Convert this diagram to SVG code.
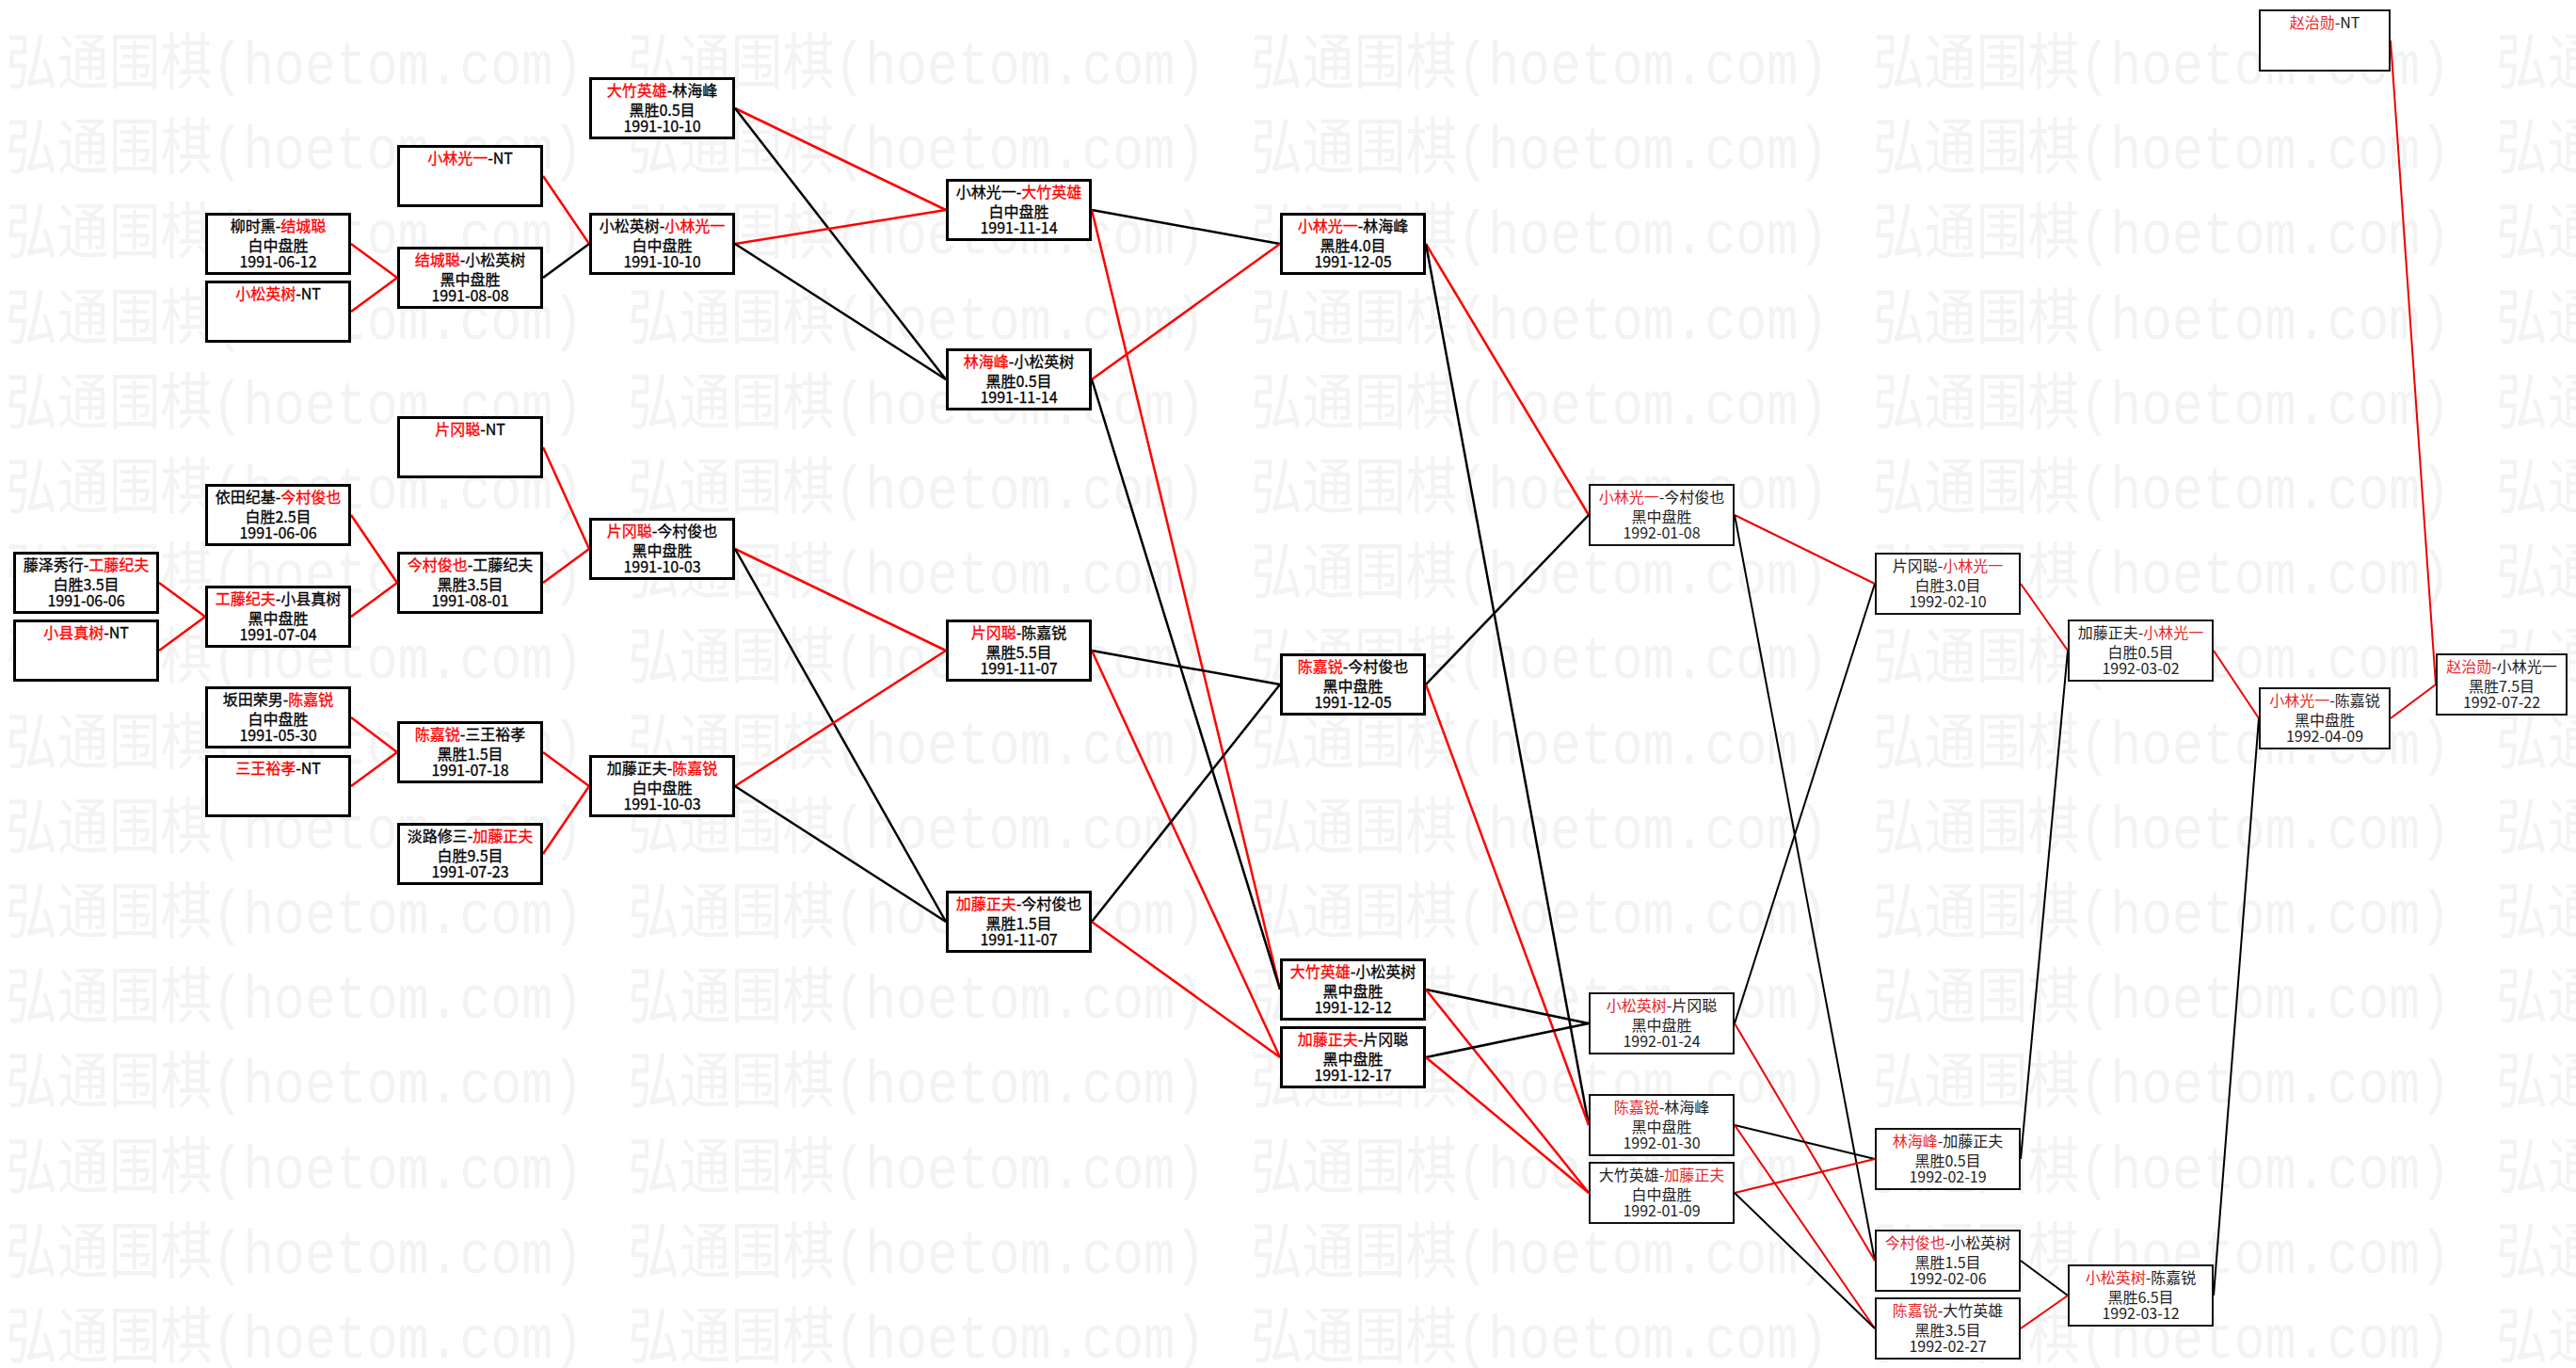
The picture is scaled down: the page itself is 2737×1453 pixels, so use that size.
<svg xmlns="http://www.w3.org/2000/svg" xmlns:xlink="http://www.w3.org/1999/xlink" width="2737" height="1453" viewBox="0 0 2737 1453">
<style>
.bg{fill:#ffffff}
.wm{font-family:"Liberation Mono","Noto Sans CJK SC",monospace;font-size:56px;fill:#f3f3f3}
.box{fill:#ffffff;stroke:#000;stroke-width:3}
.box2{fill:#ffffff;stroke:#111;stroke-width:2}
.t{font-family:"Noto Sans CJK SC","Noto Sans",sans-serif;font-size:16px;text-anchor:middle;fill:#000;stroke:#000;stroke-width:0.3}
.t2{font-family:"Noto Sans CJK SC","Noto Sans",sans-serif;font-size:16px;text-anchor:middle;fill:#222}
.r{fill:#ff0000;stroke:#ff0000}
.r2{fill:#e8282a}
.lr{stroke:#ff0000;stroke-width:2.5;fill:none}
.lb{stroke:#000;stroke-width:2.5;fill:none}
.lr2{stroke:#ee0000;stroke-width:2;fill:none}
.lb2{stroke:#000;stroke-width:2;fill:none}
</style>
<defs>
<text id="wm" class="wm" x="0" y="0" transform="scale(1,1.15)" textLength="614" lengthAdjust="spacingAndGlyphs">弘通围棋(hoetom.com)</text>
</defs>
<rect class="bg" x="0" y="0" width="2737" height="1453"/>
<g id="watermark">
<use href="#wm" x="6" y="89"/><use href="#wm" x="667" y="89"/><use href="#wm" x="1329" y="89"/><use href="#wm" x="1990" y="89"/><use href="#wm" x="2652" y="89"/>
<use href="#wm" x="6" y="179"/><use href="#wm" x="667" y="179"/><use href="#wm" x="1329" y="179"/><use href="#wm" x="1990" y="179"/><use href="#wm" x="2652" y="179"/>
<use href="#wm" x="6" y="269"/><use href="#wm" x="667" y="269"/><use href="#wm" x="1329" y="269"/><use href="#wm" x="1990" y="269"/><use href="#wm" x="2652" y="269"/>
<use href="#wm" x="6" y="360"/><use href="#wm" x="667" y="360"/><use href="#wm" x="1329" y="360"/><use href="#wm" x="1990" y="360"/><use href="#wm" x="2652" y="360"/>
<use href="#wm" x="6" y="450"/><use href="#wm" x="667" y="450"/><use href="#wm" x="1329" y="450"/><use href="#wm" x="1990" y="450"/><use href="#wm" x="2652" y="450"/>
<use href="#wm" x="6" y="540"/><use href="#wm" x="667" y="540"/><use href="#wm" x="1329" y="540"/><use href="#wm" x="1990" y="540"/><use href="#wm" x="2652" y="540"/>
<use href="#wm" x="6" y="630"/><use href="#wm" x="667" y="630"/><use href="#wm" x="1329" y="630"/><use href="#wm" x="1990" y="630"/><use href="#wm" x="2652" y="630"/>
<use href="#wm" x="6" y="720"/><use href="#wm" x="667" y="720"/><use href="#wm" x="1329" y="720"/><use href="#wm" x="1990" y="720"/><use href="#wm" x="2652" y="720"/>
<use href="#wm" x="6" y="811"/><use href="#wm" x="667" y="811"/><use href="#wm" x="1329" y="811"/><use href="#wm" x="1990" y="811"/><use href="#wm" x="2652" y="811"/>
<use href="#wm" x="6" y="901"/><use href="#wm" x="667" y="901"/><use href="#wm" x="1329" y="901"/><use href="#wm" x="1990" y="901"/><use href="#wm" x="2652" y="901"/>
<use href="#wm" x="6" y="991"/><use href="#wm" x="667" y="991"/><use href="#wm" x="1329" y="991"/><use href="#wm" x="1990" y="991"/><use href="#wm" x="2652" y="991"/>
<use href="#wm" x="6" y="1081"/><use href="#wm" x="667" y="1081"/><use href="#wm" x="1329" y="1081"/><use href="#wm" x="1990" y="1081"/><use href="#wm" x="2652" y="1081"/>
<use href="#wm" x="6" y="1171"/><use href="#wm" x="667" y="1171"/><use href="#wm" x="1329" y="1171"/><use href="#wm" x="1990" y="1171"/><use href="#wm" x="2652" y="1171"/>
<use href="#wm" x="6" y="1262"/><use href="#wm" x="667" y="1262"/><use href="#wm" x="1329" y="1262"/><use href="#wm" x="1990" y="1262"/><use href="#wm" x="2652" y="1262"/>
<use href="#wm" x="6" y="1352"/><use href="#wm" x="667" y="1352"/><use href="#wm" x="1329" y="1352"/><use href="#wm" x="1990" y="1352"/><use href="#wm" x="2652" y="1352"/>
<use href="#wm" x="6" y="1442"/><use href="#wm" x="667" y="1442"/><use href="#wm" x="1329" y="1442"/><use href="#wm" x="1990" y="1442"/><use href="#wm" x="2652" y="1442"/>
</g>
<g id="connectors">
<line class="lr" x1="169" y1="619" x2="218" y2="655"/>
<line class="lr" x1="169" y1="691" x2="218" y2="655"/>
<line class="lr" x1="373" y1="259" x2="422" y2="295"/>
<line class="lr" x1="373" y1="331" x2="422" y2="295"/>
<line class="lr" x1="373" y1="547" x2="422" y2="619"/>
<line class="lr" x1="373" y1="655" x2="422" y2="619"/>
<line class="lr" x1="373" y1="762" x2="422" y2="799"/>
<line class="lr" x1="373" y1="835" x2="422" y2="799"/>
<line class="lr" x1="577" y1="187" x2="626" y2="259"/>
<line class="lb" x1="577" y1="295" x2="626" y2="259"/>
<line class="lr" x1="577" y1="475" x2="626" y2="583"/>
<line class="lr" x1="577" y1="619" x2="626" y2="583"/>
<line class="lr" x1="577" y1="799" x2="626" y2="835"/>
<line class="lr" x1="577" y1="907" x2="626" y2="835"/>
<line class="lr" x1="781" y1="115" x2="1005" y2="223"/>
<line class="lb" x1="781" y1="115" x2="1005" y2="403"/>
<line class="lr" x1="781" y1="259" x2="1005" y2="223"/>
<line class="lb" x1="781" y1="259" x2="1005" y2="403"/>
<line class="lr" x1="781" y1="583" x2="1005" y2="691"/>
<line class="lb" x1="781" y1="583" x2="1005" y2="979"/>
<line class="lr" x1="781" y1="835" x2="1005" y2="691"/>
<line class="lb" x1="781" y1="835" x2="1005" y2="979"/>
<line class="lb" x1="1160" y1="223" x2="1360" y2="259"/>
<line class="lr" x1="1160" y1="223" x2="1360" y2="1051"/>
<line class="lr" x1="1160" y1="403" x2="1360" y2="259"/>
<line class="lb" x1="1160" y1="403" x2="1360" y2="1051"/>
<line class="lb" x1="1160" y1="691" x2="1360" y2="727"/>
<line class="lr" x1="1160" y1="691" x2="1360" y2="1123"/>
<line class="lb" x1="1160" y1="979" x2="1360" y2="727"/>
<line class="lr" x1="1160" y1="979" x2="1360" y2="1123"/>
<line class="lr" x1="1515" y1="259" x2="1688" y2="547"/>
<line class="lb" x1="1515" y1="259" x2="1688" y2="1195"/>
<line class="lb" x1="1515" y1="727" x2="1688" y2="547"/>
<line class="lr" x1="1515" y1="727" x2="1688" y2="1195"/>
<line class="lb" x1="1515" y1="1051" x2="1688" y2="1087"/>
<line class="lr" x1="1515" y1="1051" x2="1688" y2="1267"/>
<line class="lb" x1="1515" y1="1123" x2="1688" y2="1087"/>
<line class="lr" x1="1515" y1="1123" x2="1688" y2="1267"/>
<line class="lr2" x1="1843" y1="547" x2="1992" y2="620"/>
<line class="lb2" x1="1843" y1="547" x2="1992" y2="1339"/>
<line class="lb2" x1="1843" y1="1087" x2="1992" y2="620"/>
<line class="lr2" x1="1843" y1="1087" x2="1992" y2="1339"/>
<line class="lb2" x1="1843" y1="1195" x2="1992" y2="1231"/>
<line class="lr2" x1="1843" y1="1195" x2="1992" y2="1411"/>
<line class="lr2" x1="1843" y1="1267" x2="1992" y2="1231"/>
<line class="lb2" x1="1843" y1="1267" x2="1992" y2="1411"/>
<line class="lr2" x1="2147" y1="620" x2="2197" y2="691"/>
<line class="lb2" x1="2147" y1="1231" x2="2197" y2="691"/>
<line class="lb2" x1="2147" y1="1339" x2="2197" y2="1376"/>
<line class="lr2" x1="2147" y1="1411" x2="2197" y2="1376"/>
<line class="lr2" x1="2352" y1="691" x2="2400" y2="763"/>
<line class="lb2" x1="2352" y1="1376" x2="2400" y2="763"/>
<line class="lr2" x1="2540" y1="43" x2="2588" y2="727"/>
<line class="lr2" x1="2540" y1="763" x2="2588" y2="727"/>
</g>
<g id="a1" transform="translate(14,586)"><rect class="box" x="1.5" y="1.5" width="152" height="63"/><text class="t" x="77.5" y="20">藤泽秀行-<tspan class="r">工藤纪夫</tspan></text><text class="t" x="77.5" y="40.5">白胜3.5目</text><text class="t" x="77.5" y="58">1991-06-06</text></g>
<g id="a2" transform="translate(14,658)"><rect class="box" x="1.5" y="1.5" width="152" height="63"/><text class="t" x="77.5" y="20"><tspan class="r">小县真树</tspan>-NT</text></g>
<g id="b1" transform="translate(218,226)"><rect class="box" x="1.5" y="1.5" width="152" height="63"/><text class="t" x="77.5" y="20">柳时熏-<tspan class="r">结城聪</tspan></text><text class="t" x="77.5" y="40.5">白中盘胜</text><text class="t" x="77.5" y="58">1991-06-12</text></g>
<g id="b2" transform="translate(218,298)"><rect class="box" x="1.5" y="1.5" width="152" height="63"/><text class="t" x="77.5" y="20"><tspan class="r">小松英树</tspan>-NT</text></g>
<g id="b3" transform="translate(218,514)"><rect class="box" x="1.5" y="1.5" width="152" height="63"/><text class="t" x="77.5" y="20">依田纪基-<tspan class="r">今村俊也</tspan></text><text class="t" x="77.5" y="40.5">白胜2.5目</text><text class="t" x="77.5" y="58">1991-06-06</text></g>
<g id="b4" transform="translate(218,622)"><rect class="box" x="1.5" y="1.5" width="152" height="63"/><text class="t" x="77.5" y="20"><tspan class="r">工藤纪夫</tspan>-小县真树</text><text class="t" x="77.5" y="40.5">黑中盘胜</text><text class="t" x="77.5" y="58">1991-07-04</text></g>
<g id="b5" transform="translate(218,729)"><rect class="box" x="1.5" y="1.5" width="152" height="63"/><text class="t" x="77.5" y="20">坂田荣男-<tspan class="r">陈嘉锐</tspan></text><text class="t" x="77.5" y="40.5">白中盘胜</text><text class="t" x="77.5" y="58">1991-05-30</text></g>
<g id="b6" transform="translate(218,802)"><rect class="box" x="1.5" y="1.5" width="152" height="63"/><text class="t" x="77.5" y="20"><tspan class="r">三王裕孝</tspan>-NT</text></g>
<g id="c1" transform="translate(422,154)"><rect class="box" x="1.5" y="1.5" width="152" height="63"/><text class="t" x="77.5" y="20"><tspan class="r">小林光一</tspan>-NT</text></g>
<g id="c2" transform="translate(422,262)"><rect class="box" x="1.5" y="1.5" width="152" height="63"/><text class="t" x="77.5" y="20"><tspan class="r">结城聪</tspan>-小松英树</text><text class="t" x="77.5" y="40.5">黑中盘胜</text><text class="t" x="77.5" y="58">1991-08-08</text></g>
<g id="c3" transform="translate(422,442)"><rect class="box" x="1.5" y="1.5" width="152" height="63"/><text class="t" x="77.5" y="20"><tspan class="r">片冈聪</tspan>-NT</text></g>
<g id="c4" transform="translate(422,586)"><rect class="box" x="1.5" y="1.5" width="152" height="63"/><text class="t" x="77.5" y="20"><tspan class="r">今村俊也</tspan>-工藤纪夫</text><text class="t" x="77.5" y="40.5">黑胜3.5目</text><text class="t" x="77.5" y="58">1991-08-01</text></g>
<g id="c5" transform="translate(422,766)"><rect class="box" x="1.5" y="1.5" width="152" height="63"/><text class="t" x="77.5" y="20"><tspan class="r">陈嘉锐</tspan>-三王裕孝</text><text class="t" x="77.5" y="40.5">黑胜1.5目</text><text class="t" x="77.5" y="58">1991-07-18</text></g>
<g id="c6" transform="translate(422,874)"><rect class="box" x="1.5" y="1.5" width="152" height="63"/><text class="t" x="77.5" y="20">淡路修三-<tspan class="r">加藤正夫</tspan></text><text class="t" x="77.5" y="40.5">白胜9.5目</text><text class="t" x="77.5" y="58">1991-07-23</text></g>
<g id="d1" transform="translate(626,82)"><rect class="box" x="1.5" y="1.5" width="152" height="63"/><text class="t" x="77.5" y="20"><tspan class="r">大竹英雄</tspan>-林海峰</text><text class="t" x="77.5" y="40.5">黑胜0.5目</text><text class="t" x="77.5" y="58">1991-10-10</text></g>
<g id="d2" transform="translate(626,226)"><rect class="box" x="1.5" y="1.5" width="152" height="63"/><text class="t" x="77.5" y="20">小松英树-<tspan class="r">小林光一</tspan></text><text class="t" x="77.5" y="40.5">白中盘胜</text><text class="t" x="77.5" y="58">1991-10-10</text></g>
<g id="d3" transform="translate(626,550)"><rect class="box" x="1.5" y="1.5" width="152" height="63"/><text class="t" x="77.5" y="20"><tspan class="r">片冈聪</tspan>-今村俊也</text><text class="t" x="77.5" y="40.5">黑中盘胜</text><text class="t" x="77.5" y="58">1991-10-03</text></g>
<g id="d4" transform="translate(626,802)"><rect class="box" x="1.5" y="1.5" width="152" height="63"/><text class="t" x="77.5" y="20">加藤正夫-<tspan class="r">陈嘉锐</tspan></text><text class="t" x="77.5" y="40.5">白中盘胜</text><text class="t" x="77.5" y="58">1991-10-03</text></g>
<g id="e1" transform="translate(1005,190)"><rect class="box" x="1.5" y="1.5" width="152" height="63"/><text class="t" x="77.5" y="20">小林光一-<tspan class="r">大竹英雄</tspan></text><text class="t" x="77.5" y="40.5">白中盘胜</text><text class="t" x="77.5" y="58">1991-11-14</text></g>
<g id="e2" transform="translate(1005,370)"><rect class="box" x="1.5" y="1.5" width="152" height="63"/><text class="t" x="77.5" y="20"><tspan class="r">林海峰</tspan>-小松英树</text><text class="t" x="77.5" y="40.5">黑胜0.5目</text><text class="t" x="77.5" y="58">1991-11-14</text></g>
<g id="e3" transform="translate(1005,658)"><rect class="box" x="1.5" y="1.5" width="152" height="63"/><text class="t" x="77.5" y="20"><tspan class="r">片冈聪</tspan>-陈嘉锐</text><text class="t" x="77.5" y="40.5">黑胜5.5目</text><text class="t" x="77.5" y="58">1991-11-07</text></g>
<g id="e4" transform="translate(1005,946)"><rect class="box" x="1.5" y="1.5" width="152" height="63"/><text class="t" x="77.5" y="20"><tspan class="r">加藤正夫</tspan>-今村俊也</text><text class="t" x="77.5" y="40.5">黑胜1.5目</text><text class="t" x="77.5" y="58">1991-11-07</text></g>
<g id="f1" transform="translate(1360,226)"><rect class="box" x="1.5" y="1.5" width="152" height="63"/><text class="t" x="77.5" y="20"><tspan class="r">小林光一</tspan>-林海峰</text><text class="t" x="77.5" y="40.5">黑胜4.0目</text><text class="t" x="77.5" y="58">1991-12-05</text></g>
<g id="f2" transform="translate(1360,694)"><rect class="box" x="1.5" y="1.5" width="152" height="63"/><text class="t" x="77.5" y="20"><tspan class="r">陈嘉锐</tspan>-今村俊也</text><text class="t" x="77.5" y="40.5">黑中盘胜</text><text class="t" x="77.5" y="58">1991-12-05</text></g>
<g id="f3" transform="translate(1360,1018)"><rect class="box" x="1.5" y="1.5" width="152" height="63"/><text class="t" x="77.5" y="20"><tspan class="r">大竹英雄</tspan>-小松英树</text><text class="t" x="77.5" y="40.5">黑中盘胜</text><text class="t" x="77.5" y="58">1991-12-12</text></g>
<g id="f4" transform="translate(1360,1090)"><rect class="box" x="1.5" y="1.5" width="152" height="63"/><text class="t" x="77.5" y="20"><tspan class="r">加藤正夫</tspan>-片冈聪</text><text class="t" x="77.5" y="40.5">黑中盘胜</text><text class="t" x="77.5" y="58">1991-12-17</text></g>
<g id="g1" transform="translate(1688,514)"><rect class="box2" x="1" y="1" width="153" height="64"/><text class="t2" x="77.5" y="20"><tspan class="r2">小林光一</tspan>-今村俊也</text><text class="t2" x="77.5" y="40.5">黑中盘胜</text><text class="t2" x="77.5" y="58">1992-01-08</text></g>
<g id="g2" transform="translate(1688,1054)"><rect class="box2" x="1" y="1" width="153" height="64"/><text class="t2" x="77.5" y="20"><tspan class="r2">小松英树</tspan>-片冈聪</text><text class="t2" x="77.5" y="40.5">黑中盘胜</text><text class="t2" x="77.5" y="58">1992-01-24</text></g>
<g id="g3" transform="translate(1688,1162)"><rect class="box2" x="1" y="1" width="153" height="64"/><text class="t2" x="77.5" y="20"><tspan class="r2">陈嘉锐</tspan>-林海峰</text><text class="t2" x="77.5" y="40.5">黑中盘胜</text><text class="t2" x="77.5" y="58">1992-01-30</text></g>
<g id="g4" transform="translate(1688,1234)"><rect class="box2" x="1" y="1" width="153" height="64"/><text class="t2" x="77.5" y="20">大竹英雄-<tspan class="r2">加藤正夫</tspan></text><text class="t2" x="77.5" y="40.5">白中盘胜</text><text class="t2" x="77.5" y="58">1992-01-09</text></g>
<g id="h1" transform="translate(1992,587)"><rect class="box2" x="1" y="1" width="153" height="64"/><text class="t2" x="77.5" y="20">片冈聪-<tspan class="r2">小林光一</tspan></text><text class="t2" x="77.5" y="40.5">白胜3.0目</text><text class="t2" x="77.5" y="58">1992-02-10</text></g>
<g id="h2" transform="translate(1992,1198)"><rect class="box2" x="1" y="1" width="153" height="64"/><text class="t2" x="77.5" y="20"><tspan class="r2">林海峰</tspan>-加藤正夫</text><text class="t2" x="77.5" y="40.5">黑胜0.5目</text><text class="t2" x="77.5" y="58">1992-02-19</text></g>
<g id="h3" transform="translate(1992,1306)"><rect class="box2" x="1" y="1" width="153" height="64"/><text class="t2" x="77.5" y="20"><tspan class="r2">今村俊也</tspan>-小松英树</text><text class="t2" x="77.5" y="40.5">黑胜1.5目</text><text class="t2" x="77.5" y="58">1992-02-06</text></g>
<g id="h4" transform="translate(1992,1378)"><rect class="box2" x="1" y="1" width="153" height="64"/><text class="t2" x="77.5" y="20"><tspan class="r2">陈嘉锐</tspan>-大竹英雄</text><text class="t2" x="77.5" y="40.5">黑胜3.5目</text><text class="t2" x="77.5" y="58">1992-02-27</text></g>
<g id="i1" transform="translate(2197,658)"><rect class="box2" x="1" y="1" width="153" height="64"/><text class="t2" x="77.5" y="20">加藤正夫-<tspan class="r2">小林光一</tspan></text><text class="t2" x="77.5" y="40.5">白胜0.5目</text><text class="t2" x="77.5" y="58">1992-03-02</text></g>
<g id="i2" transform="translate(2197,1343)"><rect class="box2" x="1" y="1" width="153" height="64"/><text class="t2" x="77.5" y="20"><tspan class="r2">小松英树</tspan>-陈嘉锐</text><text class="t2" x="77.5" y="40.5">黑胜6.5目</text><text class="t2" x="77.5" y="58">1992-03-12</text></g>
<g id="j0" transform="translate(2400,10)"><rect class="box2" x="1" y="1" width="138" height="64"/><text class="t2" x="70" y="20"><tspan class="r2">赵治勋</tspan>-NT</text></g>
<g id="j1" transform="translate(2400,730)"><rect class="box2" x="1" y="1" width="138" height="64"/><text class="t2" x="70" y="20"><tspan class="r2">小林光一</tspan>-陈嘉锐</text><text class="t2" x="70" y="40.5">黑中盘胜</text><text class="t2" x="70" y="58">1992-04-09</text></g>
<g id="k1" transform="translate(2588,694)"><rect class="box2" x="1" y="1" width="138" height="64"/><text class="t2" x="70" y="20"><tspan class="r2">赵治勋</tspan>-小林光一</text><text class="t2" x="70" y="40.5">黑胜7.5目</text><text class="t2" x="70" y="58">1992-07-22</text></g>
</svg>
